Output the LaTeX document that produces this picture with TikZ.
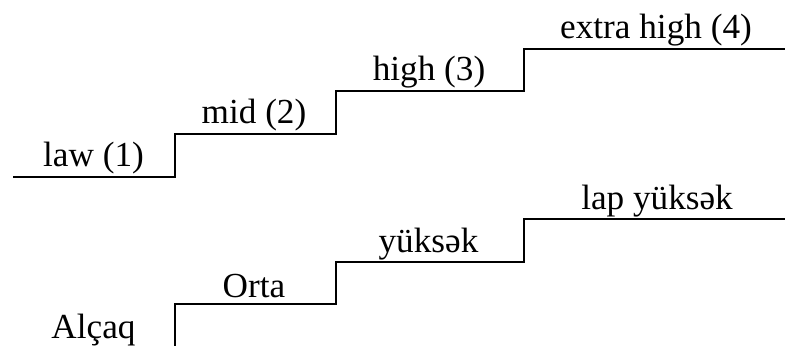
\documentclass[tikz,border=0pt]{standalone}
\usepackage{fontspec}
\setmainfont{Liberation Serif}
\begin{document}
\begin{tikzpicture}[x=0.5pt,y=-0.5pt,
  stair/.style={draw=black,line width=1.05pt,line join=miter},
  lvl/.style={anchor=base,inner sep=0pt,font=\fontsize{17.6}{20}\selectfont,text=black}]
\useasboundingbox (0,0) rectangle (785,345);

% upper staircase (English levels)
\draw[stair] (13,177) -- (175,177) -- (175,134) -- (336,134) -- (336,91)
  -- (524,91) -- (524,49) -- (785,49);
\node[lvl] (law)   at (93.5,166) {law (1)};
\node[lvl] (mid)   at (254,123)  {mid (2)};
\node[lvl] (high)  at (429,80)   {high (3)};
\node[lvl] (xhigh) at (656,38.5) {extra high (4)};

% lower staircase (Azerbaijani levels)
\draw[stair] (175,346) -- (175,304) -- (336,304) -- (336,262)
  -- (524,262) -- (524,219) -- (785,219);
\node[lvl] (alcaq) at (93.5,338) {Alçaq};
\node[lvl] (orta)  at (254,297)  {Orta};
\node[lvl] (yuk)   at (428.5,252) {yüksək};
\node[lvl] (lap)   at (657,209.5) {lap yüksək};
\end{tikzpicture}
\end{document}
